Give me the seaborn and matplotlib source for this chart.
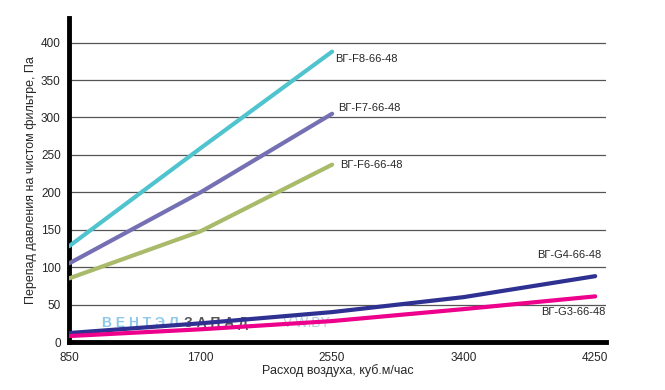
import pandas as pd
import matplotlib.pyplot as plt
import seaborn as sns

# air flow, m3/h
flow_f = [850, 1700, 2550]
flow_g = [850, 1700, 2550, 3400, 4250]

# pressure drop on clean filter, Pa
f8 = [128, 259, 388]
f7 = [105, 200, 305]
f6 = [85, 148, 237]
g4 = [12, 25, 40, 60, 88]
g3 = [8, 17, 28, 44, 61]

names = ['ВГ-F8-66-48', 'ВГ-F7-66-48', 'ВГ-F6-66-48', 'ВГ-G4-66-48', 'ВГ-G3-66-48']
colors = ['#4fc4cf', '#7570b3', '#a9ba6a', '#2e3192', '#ec008c']
x_ticks = [850, 1700, 2550, 3400, 4250]
y_ticks = [0, 50, 100, 150, 200, 250, 300, 350, 400]

frames = []
for name, xs, ys in zip(names, [flow_f, flow_f, flow_f, flow_g, flow_g], [f8, f7, f6, g4, g3]):
    frames.append(pd.DataFrame({'flow': xs, 'dp': ys, 'filter': name}))
df = pd.concat(frames)

sns.set_style('white')
plt.rcParams['font.family'] = ['Liberation Sans', 'DejaVu Sans']

fig = plt.figure(figsize=(6.65, 3.9), dpi=100)
ax = fig.add_axes([0.1038, 0.123, 0.8075, 0.831])

for y in y_ticks[1:]:
    ax.axhline(y, color='#555555', lw=0.9, zorder=0)

sns.lineplot(data=df, x='flow', y='dp', hue='filter', palette=dict(zip(names, colors)),
             lw=3, legend=False, ax=ax, zorder=3)

# watermark
ax.text(1060, 20, 'В Е Н Т Э Л', color='#8ec8ea', fontsize=10, fontweight='bold', zorder=2)
ax.text(1590, 20, 'З А П А Д', color='#555555', fontsize=10, fontweight='bold', zorder=2)
ax.text(2233, 20, 'V-W.BY', color='#b4cde2', fontsize=10, zorder=2)

# series labels
ax.text(2568, 378, names[0], fontsize=8, va='center')
ax.text(2588, 313, names[1], fontsize=8, va='center')
ax.text(2601, 237, names[2], fontsize=8, va='center')
ax.text(3874, 116, names[3], fontsize=8, va='center')
ax.text(3900, 40, names[4], fontsize=8, va='center')

ax.set_xlim(850, 4320)
ax.set_ylim(0, 433)
ax.set_xticks(x_ticks)
ax.set_yticks(y_ticks)
ax.tick_params(axis='x', direction='out', length=6, width=3, labelsize=8.5, pad=1)
ax.tick_params(axis='y', direction='out', length=5, width=0.8, color='#555555', labelsize=8.5, pad=1)
for side in ['top', 'right']:
    ax.spines[side].set_visible(False)
for side in ['left', 'bottom']:
    ax.spines[side].set_linewidth(3.5)
    ax.spines[side].set_color('black')

ax.set_xlabel('Расход воздуха, куб.м/час', fontsize=9, labelpad=0)
ax.set_ylabel('Перепад давления на чистом фильтре, Па', fontsize=9, labelpad=3)

fig.savefig('out.png', dpi=100)
